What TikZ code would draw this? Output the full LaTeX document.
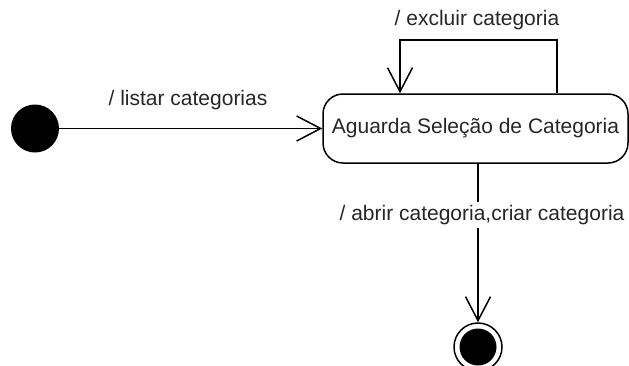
\documentclass[tikz,border=0pt]{standalone}
\usepackage{fontspec}
\setmainfont{Liberation Sans}
\usetikzlibrary{arrows.meta}
\begin{document}
\begin{tikzpicture}[x=1pt,y=-1pt,
  lbl/.style={font=\fontsize{21}{25}\selectfont, inner sep=3pt, text=black!85},
  tr/.style={line width=1.5pt, -{Straight Barb[length=24pt,width=25pt,line width=1.5pt]}},
  plain/.style={line width=1.5pt}]
  \useasboundingbox (0,0) rectangle (629,365);
  \clip (0,0) rectangle (629,365);
  % initial pseudo-state
  \node[circle, fill=black, minimum size=48pt, inner sep=0pt] (ini) at (35,128.5) {};
  % state
  \node[draw, line width=1.5pt, rounded corners=20pt, minimum width=305pt, minimum height=69pt,
        font=\fontsize{21}{25}\selectfont, text=black!85] (st) at (475.5,128.5)
        {Aguarda Seleção de Categoria};
  % final state
  \node[circle, draw, line width=1.5pt, minimum size=48pt, inner sep=0pt] (fin) at (478,347) {};
  \fill[black] (fin.center) circle (18.5pt);
  % initial transition
  \draw[tr] (ini) -- (st.west);
  \node[lbl] (l1) at (188,100) {/ listar categorias};
  % self transition
  \coordinate (rt) at (557,40);
  \coordinate (lt) at (400,40);
  \draw[tr] (st.north -| rt) -- (rt) -- (lt) -- (st.north -| lt);
  \node[lbl] (l2) at (477,20) {/ excluir categoria};
  % final transition
  \node[lbl] (l3) at (482,215) {/ abrir categoria,criar categoria};
  \draw[plain] (st.south -| fin) -- (l3.north -| fin);
  \draw[tr] (l3.south -| fin) -- (fin.north);
\end{tikzpicture}
\end{document}
